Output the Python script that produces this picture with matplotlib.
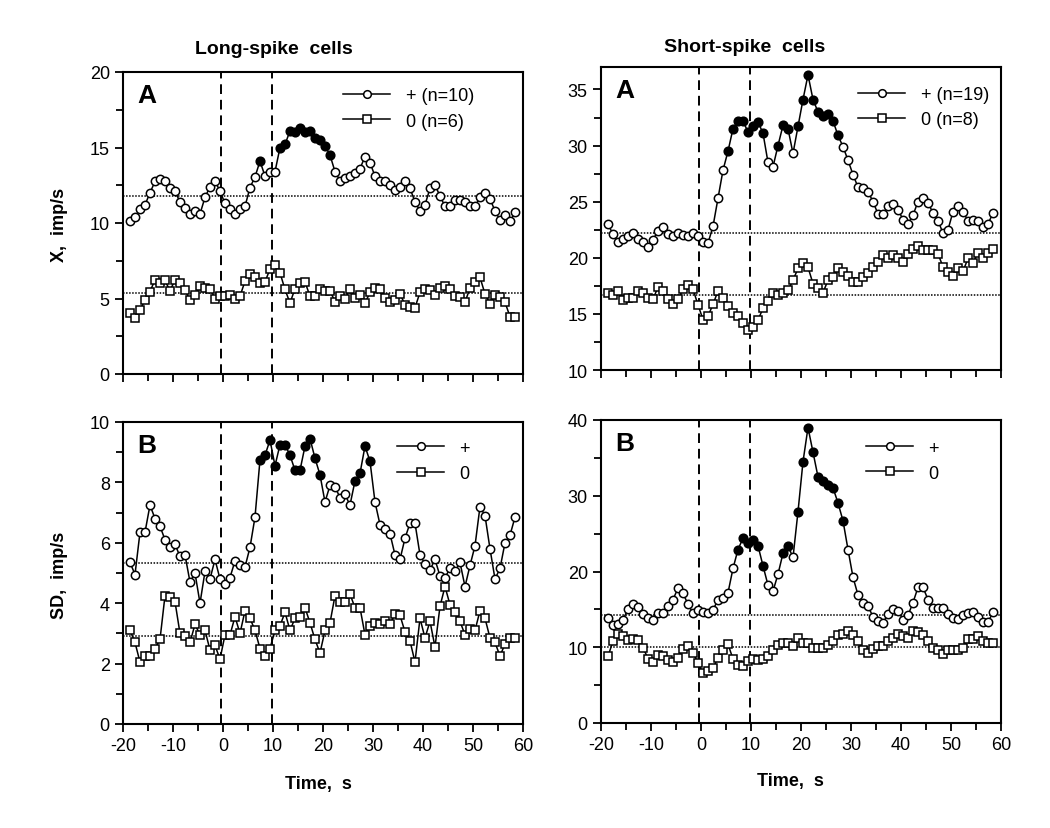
import numpy as np
import matplotlib
matplotlib.use("Agg")
import matplotlib.pyplot as plt
from matplotlib.lines import Line2D
from matplotlib.ticker import MultipleLocator

plt.rcParams['font.family'] = ['Liberation Sans', 'DejaVu Sans']
plt.rcParams['axes.unicode_minus'] = False

# time bins, 1 s step
times = np.arange(-19, 59) + 0.4

# ---- long-spike cells, mean rate (A) ----
long_x_plus = [10.1, 10.4, 10.9, 11.2, 12.0, 12.75, 12.9, 12.75, 12.35, 12.1,
               11.4, 11.0, 10.6, 10.8, 10.6, 11.7, 12.4, 12.8, 12.1, 11.3,
               10.9, 10.6, 10.9, 11.1, 12.35, 13.05, 14.1, 13.1, 13.4, 13.4,
               15.0, 15.2, 16.1, 16.0, 16.3, 16.0, 16.1, 15.6, 15.5, 15.1,
               14.5, 13.4, 12.8, 13.0, 13.1, 13.3, 13.6, 14.4, 14.0, 13.1,
               12.8, 12.8, 12.5, 12.2, 12.4, 12.8, 12.3, 11.4, 10.8, 11.2,
               12.3, 12.5, 11.8, 11.1, 11.1, 11.5, 11.5, 11.4, 11.1, 11.1,
               11.7, 12.0, 11.6, 10.8, 10.2, 10.5, 10.1, 10.7]
long_x_zero = [4.05, 3.7, 4.25, 4.9, 5.45, 6.25, 6.05, 6.2, 5.5, 6.25,
               6.0, 5.55, 4.9, 5.25, 5.8, 5.7, 5.65, 5.0, 5.15, 5.15,
               5.25, 5.0, 5.15, 6.15, 6.65, 6.45, 6.0, 6.1, 6.95, 7.25,
               6.7, 5.6, 4.7, 5.65, 6.0, 6.1, 5.15, 5.15, 5.65, 5.5,
               5.5, 4.8, 5.15, 5.0, 5.6, 5.05, 5.2, 4.7, 5.4, 5.7,
               5.6, 5.05, 4.75, 4.9, 5.3, 4.6, 4.45, 4.4, 5.4, 5.65,
               5.55, 5.25, 5.7, 5.85, 5.65, 5.15, 5.1, 4.75, 5.7, 6.1,
               6.4, 5.3, 4.65, 5.25, 5.1, 4.75, 3.8, 3.8]
long_x_filled = [7, 11, 12, 13, 14, 15, 16, 17, 18, 19, 20, 21]
long_x_base = [11.76, 5.38]

# ---- short-spike cells, mean rate (A) ----
short_x_plus = [23.0, 22.1, 21.4, 21.7, 21.9, 22.2, 21.7, 21.4, 21.0, 21.6,
                22.4, 22.7, 22.1, 21.9, 22.2, 22.0, 21.9, 22.2, 21.9, 21.4,
                21.3, 22.8, 25.3, 27.8, 29.5, 31.5, 32.2, 32.2, 31.2, 31.7,
                32.1, 31.1, 28.5, 28.1, 30.0, 31.8, 31.5, 29.3, 31.7, 34.1,
                36.3, 34.1, 33.0, 32.6, 32.8, 32.2, 30.9, 29.9, 28.7, 27.4,
                26.3, 26.2, 25.9, 25.0, 23.9, 23.9, 24.6, 24.8, 24.3, 23.4,
                23.0, 23.8, 25.0, 25.3, 24.9, 24.0, 23.3, 22.2, 22.5, 24.1,
                24.6, 24.1, 23.3, 23.4, 23.3, 22.7, 23.0, 24.0]
short_x_zero = [16.9, 16.7, 17.05, 16.25, 16.45, 16.45, 17.05, 16.85, 16.45, 16.3,
                17.4, 17.05, 16.3, 15.85, 16.3, 17.2, 17.55, 17.2, 15.8, 14.5,
                14.8, 15.85, 17.05, 16.4, 15.7, 15.1, 14.8, 14.15, 13.6, 13.85,
                14.45, 15.5, 16.15, 16.9, 16.7, 16.85, 17.1, 18.0, 19.05, 19.5,
                19.15, 17.7, 17.35, 16.9, 18.0, 18.25, 19.05, 18.75, 18.35, 17.85,
                17.85, 18.3, 18.6, 19.2, 19.6, 20.25, 19.95, 20.25, 19.95, 19.65,
                20.35, 20.75, 21.05, 20.65, 20.7, 20.7, 20.35, 19.2, 18.75, 18.35,
                19.05, 18.8, 19.95, 19.55, 20.45, 19.95, 20.45, 20.75]
short_x_filled = [5, 6, 7, 8, 9, 10, 11, 12, 15, 16, 17, 19, 20, 21, 22, 23, 24, 25, 26, 27]
short_x_base = [22.2, 16.7]

# ---- long-spike cells, SD (B) ----
long_sd_plus = [5.35, 4.95, 6.35, 6.35, 7.25, 6.8, 6.55, 6.1, 5.85, 5.95,
                5.55, 5.6, 4.7, 5.0, 4.0, 5.05, 4.8, 5.45, 4.8, 4.65,
                4.85, 5.4, 5.25, 5.2, 5.85, 6.85, 8.75, 8.9, 9.4, 8.55,
                9.25, 9.25, 8.9, 8.4, 8.4, 9.2, 9.45, 8.8, 8.25, 7.35,
                7.9, 7.85, 7.5, 7.6, 7.25, 8.05, 8.3, 9.2, 8.7, 7.35,
                6.6, 6.45, 6.3, 5.6, 5.45, 6.15, 6.65, 6.65, 5.6, 5.3,
                5.1, 5.45, 4.9, 4.85, 5.15, 5.05, 5.35, 4.55, 5.25, 5.9,
                7.2, 6.9, 5.8, 4.8, 5.15, 6.0, 6.25, 6.85]
long_sd_zero = [3.1, 2.7, 2.05, 2.25, 2.25, 2.5, 2.8, 4.25, 4.2, 4.05,
                3.0, 2.9, 2.7, 3.3, 2.95, 3.1, 2.45, 2.6, 2.15, 2.95,
                2.95, 3.55, 3.0, 3.75, 3.5, 3.1, 2.5, 2.25, 2.5, 3.1,
                3.25, 3.7, 3.1, 3.5, 3.55, 3.85, 3.35, 2.8, 2.35, 3.1,
                3.35, 4.25, 4.05, 4.05, 4.3, 3.85, 3.85, 2.95, 3.25, 3.35,
                3.3, 3.4, 3.3, 3.65, 3.6, 3.05, 2.75, 2.05, 3.5, 2.85,
                3.4, 2.55, 3.9, 4.55, 3.95, 3.7, 3.4, 2.95, 3.15, 3.1,
                3.75, 3.5, 2.85, 2.7, 2.25, 2.65, 2.85, 2.85]
long_sd_filled = [7, 8, 9, 10, 11, 12, 13, 14, 15, 16, 17, 18, 19, 26, 27, 28, 29]
long_sd_base = [5.33, 2.91]

# ---- short-spike cells, SD (B) ----
short_sd_plus = [13.9, 12.9, 13.05, 13.6, 15.1, 15.7, 15.3, 14.4, 13.85, 13.6,
                 14.5, 14.5, 15.4, 16.3, 17.8, 17.1, 15.7, 14.5, 14.9, 14.7,
                 14.5, 14.9, 16.3, 16.5, 17.2, 20.4, 22.9, 24.4, 23.7, 24.2,
                 23.4, 20.75, 18.2, 17.4, 19.65, 22.4, 23.4, 21.85, 27.9, 34.5,
                 39.0, 35.75, 32.5, 32.0, 31.4, 31.05, 29.05, 26.7, 22.9, 19.25,
                 16.9, 15.9, 15.4, 14.05, 13.5, 13.2, 14.4, 15.1, 14.85, 13.6,
                 14.2, 15.9, 17.9, 17.9, 16.3, 15.2, 15.2, 15.2, 14.4, 13.85,
                 13.7, 14.3, 14.5, 14.7, 14.05, 13.3, 13.3, 14.6]
short_sd_zero = [8.8, 10.8, 11.7, 11.5, 10.9, 11.1, 11.0, 9.95, 8.5, 8.1,
                 9.0, 8.8, 8.35, 8.1, 8.6, 9.75, 10.2, 9.3, 7.9, 6.6,
                 6.8, 7.25, 8.6, 9.65, 10.4, 8.45, 7.7, 7.5, 8.2, 8.45,
                 8.3, 8.5, 8.8, 9.65, 10.25, 10.6, 10.6, 10.2, 11.2, 10.5,
                 10.6, 9.9, 9.9, 9.9, 10.3, 10.8, 11.65, 11.8, 12.2, 11.65,
                 10.8, 9.65, 9.25, 9.75, 10.2, 10.2, 10.8, 11.2, 11.8, 11.5,
                 11.2, 12.2, 11.95, 11.65, 10.8, 9.9, 9.65, 9.15, 9.65, 9.6,
                 9.6, 9.9, 11.1, 11.1, 11.5, 10.8, 10.55, 10.55]
short_sd_filled = [7, 8, 9, 10, 11, 12, 16, 17, 19, 20, 21, 22, 23, 24, 25, 26, 27, 28]
short_sd_base = [14.2, 10.0]

event_lines = [-0.5, 9.7]

fig = plt.figure(figsize=(10.5, 8.29), dpi=100)
W, H = 1050.0, 829.0


def make_ax(x0, x1, y0, y1):
    return fig.add_axes([x0 / W, 1 - y1 / H, (x1 - x0) / W, (y1 - y0) / H])


ax_tl = make_ax(123, 523, 73, 375)
ax_tr = make_ax(601, 1001, 68, 371)
ax_bl = make_ax(123, 523, 423, 725)
ax_br = make_ax(601, 1001, 421, 724)


def draw(ax, plus, zero, filled, base, ylim, major, minor):
    plus = np.array(plus)
    zero = np.array(zero)
    idx = np.round(times - 0.4).astype(int)
    is_filled = np.isin(idx, filled)
    ax.axhline(base[0], color='k', lw=1.1, ls=(0, (1, 1)), zorder=1)
    ax.axhline(base[1], color='k', lw=1.1, ls=(0, (1, 1)), zorder=1)
    for xv in event_lines:
        ax.axvline(xv, color='k', lw=1.4, ls=(0, (5, 3)), zorder=1)
    ax.plot(times, zero, color='k', lw=1.1, marker='s', ms=5.8,
            mfc='white', mec='k', mew=1.1, zorder=3)
    ax.plot(times, plus, color='k', lw=1.1, zorder=3)
    ax.plot(times[~is_filled], plus[~is_filled], ls='none', marker='o', ms=6,
            mfc='white', mec='k', mew=1.1, zorder=4)
    ax.plot(times[is_filled], plus[is_filled], ls='none', marker='o', ms=6.2,
            mfc='k', mec='k', mew=1.1, zorder=4)
    ax.set_xlim(-20, 60)
    ax.set_ylim(*ylim)
    ax.xaxis.set_major_locator(MultipleLocator(10))
    ax.xaxis.set_minor_locator(MultipleLocator(5))
    ax.yaxis.set_major_locator(MultipleLocator(major))
    ax.yaxis.set_minor_locator(MultipleLocator(minor))
    ax.tick_params(which='both', direction='out', width=1.3, labelsize=13)
    ax.tick_params(which='major', length=6)
    ax.tick_params(which='minor', length=5)
    for s in ax.spines.values():
        s.set_linewidth(1.5)


draw(ax_tl, long_x_plus, long_x_zero, long_x_filled, long_x_base, (0, 20), 5, 2.5)
draw(ax_tr, short_x_plus, short_x_zero, short_x_filled, short_x_base, (10, 37), 5, 2.5)
draw(ax_bl, long_sd_plus, long_sd_zero, long_sd_filled, long_sd_base, (0, 10), 2, 1)
draw(ax_br, short_sd_plus, short_sd_zero, short_sd_filled, short_sd_base, (0, 40), 10, 5)

for ax in (ax_tl, ax_tr):
    ax.tick_params(labelbottom=False)

for ax, letter in ((ax_tl, 'A'), (ax_tr, 'A'), (ax_bl, 'B'), (ax_br, 'B')):
    ax.text(0.035, 0.965, letter, transform=ax.transAxes, fontsize=19,
            fontweight='bold', va='top', ha='left')


def legend(ax, lab_plus, lab_zero, anchor):
    h1 = Line2D([], [], color='k', lw=1.1, marker='o', ms=5.5, mfc='white', mew=1.1)
    h2 = Line2D([], [], color='k', lw=1.1, marker='s', ms=5.5, mfc='white', mew=1.1)
    ax.legend([h1, h2], [lab_plus, lab_zero], loc='upper left', bbox_to_anchor=anchor,
              frameon=False, fontsize=13, handlelength=2.6, handletextpad=0.85,
              labelspacing=0.45, borderaxespad=0)


legend(ax_tl, '+ (n=10)', '0 (n=6)', (0.5325, 0.973))
legend(ax_tr, '+ (n=19)', '0 (n=8)', (0.625, 0.96))
legend(ax_bl, '+', '0', (0.6675, 0.965))
legend(ax_br, '+', '0', (0.645, 0.959))

fig.text(274 / W, 1 - 50 / H, 'Long-spike  cells', fontsize=14, fontweight='bold',
         ha='center', va='center')
fig.text(745 / W, 1 - 47 / H, 'Short-spike  cells', fontsize=14, fontweight='bold',
         ha='center', va='center')
fig.text(60 / W, 1 - 225 / H, 'X,  imp/s', fontsize=13, fontweight='bold',
         rotation=90, ha='center', va='center')
fig.text(60 / W, 1 - 575 / H, 'SD,  imp/s', fontsize=13, fontweight='bold',
         rotation=90, ha='center', va='center')
fig.text(318 / W, 1 - 785 / H, 'Time,  s', fontsize=13, fontweight='bold',
         ha='center', va='center')
fig.text(790 / W, 1 - 782 / H, 'Time,  s', fontsize=13, fontweight='bold',
         ha='center', va='center')

fig.savefig('out.png', dpi=100, facecolor='white')
